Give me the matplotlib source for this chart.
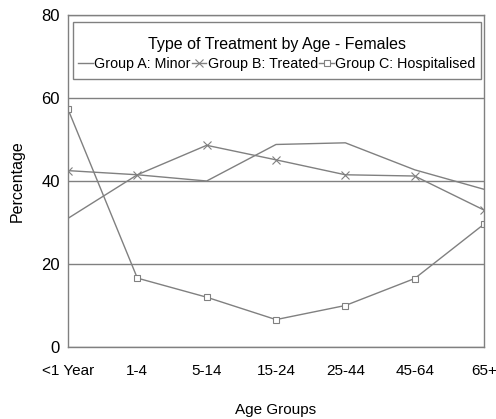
import matplotlib
matplotlib.use("Agg")
import matplotlib.pyplot as plt
from matplotlib.patches import Rectangle

categories = ["<1 Year", "1-4", "5-14", "15-24", "25-44", "45-64", "65+"]
group_a = [31.0, 41.5, 40.0, 48.8, 49.2, 42.7, 38.0]
group_b = [42.5, 41.5, 48.6, 45.1, 41.5, 41.2, 33.0]
group_c = [57.3, 16.6, 12.0, 6.6, 10.0, 16.5, 29.6]
series_names = ["Group A: Minor", "Group B: Treated", "Group C: Hospitalised"]
yticks = [0, 20, 40, 60, 80]

plt.rcParams["font.family"] = ["Liberation Sans", "DejaVu Sans"]
plt.rcParams["font.size"] = 10.5

W, H = 496, 419
fig = plt.figure(figsize=(W/100, H/100), dpi=100)
L, R, T, B = 68, 484, 15, 347
ax = fig.add_axes([L/W, 1-B/H, (R-L)/W, (B-T)/H])

def axfrac(px, py):
    return (px-L)/(R-L), (B-py)/(B-T)

gray = "#808080"
x = list(range(len(categories)))
ax.plot(x, group_a, color=gray, lw=1.0, label=series_names[0])
ax.plot(x, group_b, color=gray, lw=1.0, marker="x", ms=6, mew=0.8, label=series_names[1])
ax.plot(x, group_c, color=gray, lw=1.0, marker="s", ms=5, mfc="white", mew=0.8, label=series_names[2])

ax.set_xlim(0, len(categories)-1)
ax.set_ylim(0, 80)
ax.set_yticks(yticks)
ax.set_xticks(x)
ax.set_xticklabels(categories)
ax.tick_params(axis="x", length=0, labelsize=11, pad=12)
ax.tick_params(axis="y", length=0, labelsize=12, pad=6)
ax.yaxis.grid(True, color=gray, lw=1.0)
ax.set_axisbelow(True)
for s in ax.spines.values():
    s.set_color(gray)
    s.set_linewidth(1.0)

ax.set_xlabel("Age Groups", fontsize=11, labelpad=18)
ax.set_ylabel("Percentage", fontsize=11.5, labelpad=12)

# legend frame
x0, y0 = axfrac(73, 79)
x1, y1 = axfrac(481, 22)
ax.add_patch(Rectangle((x0, y0), x1-x0, y1-y0, transform=ax.transAxes,
                       facecolor="white", edgecolor=gray, lw=1.0, zorder=4,
                       clip_on=False))

cx, cy = axfrac(277, 54)
leg = ax.legend(title="Type of Treatment by Age - Females", ncol=3,
                loc="center", bbox_to_anchor=(cx, cy),
                fontsize=10.3, title_fontsize=11.5, frameon=False,
                handlelength=1.0, handletextpad=0.1,
                columnspacing=0.1, borderaxespad=0, borderpad=0.0)
leg.set_zorder(5)
leg._legend_box.sep = 4

fig.savefig("out.png", dpi=100)
